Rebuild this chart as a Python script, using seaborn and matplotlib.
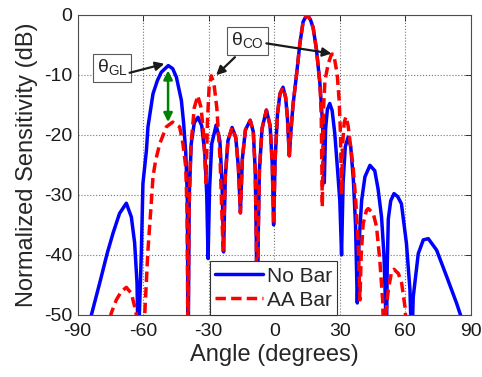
import numpy as np
import pandas as pd
import seaborn as sns
import matplotlib
matplotlib.use('Agg')
import matplotlib.pyplot as plt

# values (angle in degrees, level in dB)
angle_nobar = [-87, -83.7, -79.9, -76.5, -73.8, -70.8, -67.7, -65.4, -63.9, -62.8,
               -62.3, -61.2, -60.8, -60.1, -58.5, -57.8, -55.5, -53.5, -51.7, -48.5,
               -46.5, -44.8, -42.5, -41.5, -40.5, -39.8, -39.4, -38.9, -38.0, -36.6,
               -34.9, -33.2, -31.8, -30.9, -30.3, -29.6, -28.6, -26.6, -24.9, -23.9,
               -23.2, -22.4, -21.2, -19.3, -17.6, -16.4, -15.5, -14.6, -13.2, -11.0,
               -9.6, -8.7, -8.2, -7.8, -7.3, -6.8, -5.6, -3.6, -1.9, -0.9,
               -0.3, 0.4, 1.5, 2.6, 4.0, 5.2, 6.0, 6.9, 7.6, 8.6,
               10.2, 11.7, 13.2, 15.0, 16.6, 17.8, 19.3, 20.9, 22.0, 22.5,
               22.9, 23.5, 24.3, 25.4, 26.5, 27.7, 29.0, 30.0, 30.8, 31.5,
               32.5, 33.8, 35.0, 36.2, 37.2, 38.0, 38.8, 40.0, 41.5, 43.8,
               46.0, 47.5, 49.1, 50.2, 50.9, 51.3, 51.7, 52.2, 53.3, 54.8,
               56.5, 58.2, 60.5, 62.1, 62.9, 63.6, 64.4, 65.9, 68.2, 70.5,
               74.3, 78.9, 83.5, 87.5]
db_nobar = [-55, -50, -44.7, -39.8, -36.4, -33.1, -31.4, -33.7, -38, -44.7,
            -56, -44, -39.2, -28.1, -22.6, -18.7, -13.2, -11, -9.6, -8.5,
            -9, -10.4, -14.3, -18, -23, -30, -56, -30, -21.5, -18,
            -17.1, -18.5, -23, -30, -40.6, -29, -21.5, -18.4, -21, -28,
            -39.5, -27, -21, -18.8, -20.5, -25.5, -33, -24, -19.2, -17.6,
            -19.5, -26, -38, -56, -36, -26, -19, -15.9, -18.5, -25,
            -35, -24, -16.5, -13.2, -12.1, -13.8, -17, -23.5, -19.5, -15,
            -10, -4.9, -1.2, 0, -0.9, -2.2, -5.8, -11.5, -17.5, -22,
            -28, -19, -15.8, -14.8, -16, -19.8, -26, -31, -40, -28,
            -22, -20.4, -22, -27.5, -35, -48, -38, -30.9, -27, -25.1,
            -26, -29, -33.7, -40, -48, -56, -42, -34, -31, -29.8,
            -30.3, -31.5, -38.1, -45.8, -56, -47, -44.5, -39.8, -37.5, -37.3,
            -39.2, -43.6, -48.1, -52.5]

angle_aabar = [-76.5, -74.6, -72.3, -70.0, -67.7, -65.4, -63.9, -62.8, -61.2, -59.3,
               -57.8, -56.2, -55.5, -54.3, -52.4, -49.4, -46.5, -43.3, -41.8, -40.5,
               -39.9, -39.5, -39.0, -38.2, -36.6, -35.0, -33.5, -32.3, -31.2, -30.6,
               -29.8, -28.8, -27.6, -26.3, -24.8, -23.4, -22.4, -21.2, -19.3, -17.6,
               -16.4, -15.5, -14.6, -13.2, -11.0, -9.6, -8.7, -8.2, -7.8, -7.3,
               -6.8, -5.6, -3.6, -1.9, -0.9, -0.3, 0.4, 1.5, 2.6, 4.0,
               5.2, 6.0, 6.9, 7.6, 8.6, 10.2, 11.7, 13.2, 15.0, 16.6,
               17.8, 19.3, 20.9, 21.5, 22.0, 22.5, 23.2, 24.7, 26.2, 27.2,
               28.8, 29.7, 30.3, 30.8, 31.4, 32.0, 32.8, 33.8, 34.6, 36.1,
               37.3, 38.4, 39.2, 39.8, 40.7, 42.2, 43.0, 45.3, 46.8, 48.3,
               49.6, 50.2, 51.0, 52.2, 53.7, 54.8, 56.8, 58.3, 59.8, 61.0]
db_aabar = [-53, -49.7, -47.5, -46.1, -45.4, -46.4, -48.6, -50.5, -60, -50,
            -39.2, -30.9, -27, -24.3, -21.5, -18.7, -17.9, -18.7, -21.5, -25.4,
            -33, -56, -33, -22, -15.5, -13.5, -15.5, -20, -28, -18,
            -12, -10.2, -11.5, -15.5, -24, -39.5, -27, -21, -18.8, -20.5,
            -25.5, -33, -24, -19.2, -17.6, -19.5, -26, -38, -56, -36,
            -26, -19, -15.9, -18.5, -25, -35, -24, -16.5, -13.2, -12.1,
            -13.8, -17, -23.5, -19.5, -15, -10, -4.9, -1.2, 0, -0.9,
            -2.2, -5.8, -11.5, -17, -32, -16, -11, -8.2, -6.6, -6.6,
            -9.9, -14.3, -19.8, -30, -21, -18, -17, -18.5, -20.9, -25.4,
            -31, -38, -47.5, -40, -34.8, -32.6, -32.3, -33.1, -35.3, -40.9,
            -47.5, -56, -50, -45.8, -42.8, -42.4, -43.1, -44.7, -48.6, -55]

series_names = ['No Bar', 'AA Bar']
x_ticks = [-90, -60, -30, 0, 30, 60, 90]
y_ticks = [-50, -40, -30, -20, -10, 0]

sns.set_theme(style='white')
plt.rcParams['font.family'] = ['Liberation Sans', 'DejaVu Sans']
plt.rcParams['mathtext.fontset'] = 'custom'
plt.rcParams['mathtext.rm'] = 'Liberation Sans'
plt.rcParams['axes.unicode_minus'] = False

df_nobar = pd.DataFrame({'angle': angle_nobar, 'db': db_nobar})
df_aabar = pd.DataFrame({'angle': angle_aabar, 'db': db_aabar})

fig = plt.figure(figsize=(4.82, 3.77), dpi=100)
ax = fig.add_axes([0.161, 0.1645, 0.816, 0.797])

sns.lineplot(x='angle', y='db', data=df_nobar, color=(0, 0, 1), lw=2.5,
             estimator=None, sort=False, label=series_names[0], ax=ax)
sns.lineplot(x='angle', y='db', data=df_aabar, color=(1, 0, 0), lw=2.5,
             estimator=None, sort=False, label=series_names[1], ax=ax)
ax.lines[1].set_dashes([3.0, 1.5])

ax.set_xlim(-90, 90)
ax.set_ylim(-50, 0)
ax.set_xticks(x_ticks)
ax.set_yticks(y_ticks)
ax.grid(True, linestyle=':', color='0.45', linewidth=0.8)
ax.tick_params(direction='in', top=True, right=True, length=4, width=0.6,
               labelsize=14, colors='k')
ax.tick_params(axis='x', pad=6)
ax.tick_params(axis='y', pad=4)
for s in ax.spines.values():
    s.set_color('0.3')
    s.set_linewidth(0.8)

ax.set_xlabel('Angle (degrees)', fontsize=17, labelpad=3)
ax.set_ylabel('Normalized Sensitivity (dB)', fontsize=17, labelpad=4)

# annotation boxes and arrows
box = dict(boxstyle='square,pad=0.2', fc='white', ec='0.35', lw=0.8)
ax.text(-74.2, -8.9, r'θ$_{\mathrm{GL}}$', fontsize=14, ha='center',
        va='center', bbox=box)
ax.text(-12.3, -4.4, r'θ$_{\mathrm{CO}}$', fontsize=14, ha='center',
        va='center', bbox=box)

arw = dict(arrowstyle='-|>', color='k', lw=1.6, mutation_scale=13,
           shrinkA=0, shrinkB=0)
ax.annotate('', xy=(-50.3, -8.2), xytext=(-66.2, -9.7), arrowprops=arw)
ax.annotate('', xy=(-26.6, -10.1), xytext=(-18.0, -7.1), arrowprops=arw)
ax.annotate('', xy=(26.2, -6.5), xytext=(-3.6, -4.8), arrowprops=arw)
ax.annotate('', xy=(-48.6, -17.9), xytext=(-48.6, -9.3),
            arrowprops=dict(arrowstyle='<|-|>', color=(0, 0.5, 0), lw=1.8,
                            mutation_scale=13, shrinkA=0, shrinkB=0))

leg = ax.legend(loc='lower left', bbox_to_anchor=(0.336, 0.0), fontsize=15,
                handlelength=2.3, handletextpad=0.2, labelspacing=0.25,
                borderpad=0.25, borderaxespad=0, fancybox=False,
                framealpha=1, edgecolor='0.2')
leg.get_frame().set_linewidth(0.8)

fig.savefig('out.png', dpi=100)
